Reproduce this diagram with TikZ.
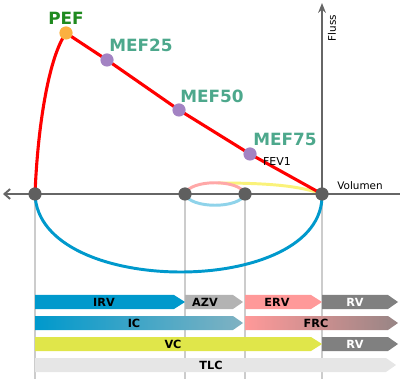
\documentclass[tikz,border=0pt]{standalone}
\usepackage{fontspec}
\setmainfont{DejaVu Sans}
\usepackage{xcolor}
\usetikzlibrary{arrows.meta}

\definecolor{lungblue}{HTML}{0099CC}
\definecolor{lightblue}{HTML}{8FD3EA}
\definecolor{icend}{HTML}{80B2C2}
\definecolor{azvgray}{HTML}{B3B3B3}
\definecolor{ervpink}{HTML}{FF9999}
\definecolor{frcend}{HTML}{978585}
\definecolor{rvgray}{HTML}{808080}
\definecolor{vcyellow}{HTML}{E0E64A}
\definecolor{tlcgray}{HTML}{E6E6E6}
\definecolor{axisgray}{HTML}{666666}
\definecolor{dotgray}{HTML}{5F5F5F}
\definecolor{guidegray}{HTML}{CCCCCC}
\definecolor{mefteal}{HTML}{4DA88C}
\definecolor{pefgreen}{HTML}{1F8A1F}
\definecolor{peforange}{HTML}{FBB040}
\definecolor{mefpurple}{HTML}{A383C3}
\definecolor{loopyellow}{HTML}{FAF27A}

\begin{document}
\begin{tikzpicture}[x=0.025cm,y=-0.025cm,
  dot/.style={circle,inner sep=0pt,minimum size=3.3mm},
  meflabel/.style={text=mefteal,font=\bfseries\fontsize{12}{12}\selectfont},
  barlabel/.style={font=\bfseries\fontsize{8}{8}\selectfont},
  smalllabel/.style={font=\fontsize{7.4}{7.4}\selectfont,inner sep=0pt},
  guide/.style={draw=guidegray,line width=0.9pt}]
\useasboundingbox (0,0) rectangle (400,379);

%Points
\coordinate (tlc) at (35,194);
\coordinate (azv) at (185,194);
\coordinate (erv) at (245,194);
\coordinate (rv) at (322,194);
\coordinate (pef) at (66,33);
\coordinate (mef25) at (107,60);
\coordinate (mef50) at (179,110);
\coordinate (mef75) at (250,154);
\coordinate (axisleft) at (3,194);
\coordinate (axisright) at (400,194);
\coordinate (axistop) at (322,3);

%Guides
\draw[guide] (tlc) -- (35,379);
\draw[guide] (azv) -- (185,379);
\draw[guide] (erv) -- (245,379);
\draw[guide] (rv) -- (322,379);

%Inspiration
\draw[lungblue, line width=2.1pt] (tlc) .. controls (38,298) and (325,298) .. (rv);

%Small loop
\draw[loopyellow, line width=2.1pt] (218,183) .. controls (270,183) and (300,186) .. (rv);
\draw[ervpink!85, line width=2.1pt] (azv) .. controls (190,179) and (240,179) .. (erv);
\draw[lightblue, line width=2.1pt] (azv) .. controls (190,209) and (240,209) .. (erv);

%Expiration
\draw[red, line width=2.2pt] (tlc) .. controls (38,120) and (50,55) .. (pef);
\draw[red, line width=2.2pt, line join=round] (pef) -- (mef25) -- (mef50) -- (mef75) -- (rv);

%Axis
\draw[axisgray, line width=1.4pt, -{Straight Barb[length=4pt,width=7pt]}] (axisright) -- (axisleft);
\draw[axisgray, line width=1.4pt, -{Stealth[length=7pt,width=5.5pt]}] (rv) -- (axistop);
\node[smalllabel] (volumen) at (360,186) {Volumen};
\node[smalllabel, rotate=90] (fluss) at (332,28) {Fluss};

%Dots
\node[dot, fill=dotgray] (ptlc) at (tlc) {};
\node[dot, fill=dotgray] (pazv) at (azv) {};
\node[dot, fill=dotgray] (perv) at (erv) {};
\node[dot, fill=dotgray] (prv) at (rv) {};
\node[dot, fill=peforange] (ppef) at (pef) {};
\node[dot, fill=mefpurple] (pmef25) at (mef25) {};
\node[dot, fill=mefpurple] (pmef50) at (mef50) {};
\node[dot, fill=mefpurple] (pmef75) at (mef75) {};

%Labels
\node[text=pefgreen, font=\bfseries\fontsize{12}{12}\selectfont] (lpef) at (66,18) {PEF};
\node[meflabel] (lmef25) at (141,45) {MEF25};
\node[meflabel] (lmef50) at (212,96) {MEF50};
\node[meflabel] (lmef75) at (285,139) {MEF75};
\node[font=\fontsize{7.8}{7.8}\selectfont] (lfev) at (277,162) {FEV1};

%Bars row 1
\fill[lungblue] (35,295) -- (174,295) -- (185,302) -- (174,309) -- (35,309) -- cycle;
\fill[azvgray] (185,295) -- (233,295) -- (243,302) -- (233,309) -- (185,309) -- cycle;
\fill[ervpink] (245,295) -- (311,295) -- (322,302) -- (311,309) -- (245,309) -- cycle;
\fill[rvgray] (322,295) -- (388,295) -- (398,302) -- (388,309) -- (322,309) -- cycle;
\node[barlabel] (irv) at (104,302) {IRV};
\node[barlabel] (azvl) at (205,302) {AZV};
\node[barlabel] (ervl) at (277,302) {ERV};
\node[barlabel, text=white] (rvl) at (355,302) {RV};

%Bars row 2
\shade[left color=lungblue, middle color=lungblue, right color=icend] (35,316) -- (233,316) -- (243,323) -- (233,330) -- (35,330) -- cycle;
\shade[left color=ervpink, right color=frcend] (245,316) -- (388,316) -- (398,323) -- (388,330) -- (245,330) -- cycle;
\node[barlabel] (ic) at (134,323) {IC};
\node[barlabel] (frc) at (316,323) {FRC};

%Bars row 3
\fill[vcyellow] (35,337) -- (311,337) -- (322,344) -- (311,351) -- (35,351) -- cycle;
\fill[rvgray] (322,337) -- (388,337) -- (398,344) -- (388,351) -- (322,351) -- cycle;
\node[barlabel] (vc) at (173,344) {VC};
\node[barlabel, text=white] (rvl2) at (355,344) {RV};

%Bars row 4
\fill[tlcgray] (35,358) -- (386,358) -- (396,365) -- (386,372) -- (35,372) -- cycle;
\node[barlabel] (tlcl) at (211,365) {TLC};

\end{tikzpicture}
\end{document}
